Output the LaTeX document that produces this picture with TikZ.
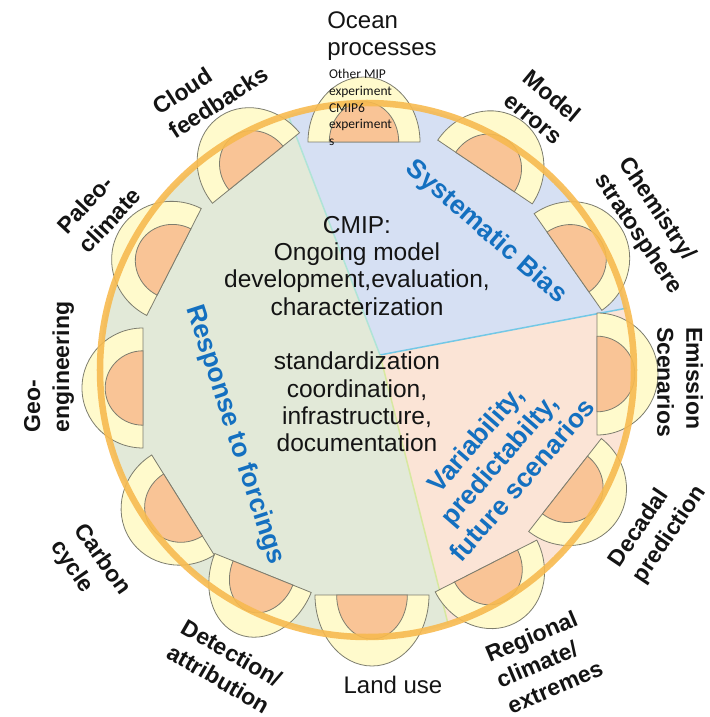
\documentclass[tikz,border=0pt]{standalone}
\usepackage{fontspec}
\setmainfont{Liberation Sans}
\newfontfamily\notefont{Carlito}

\definecolor{sectorgreen}{RGB}{226,233,216}
\definecolor{sectorblue}{RGB}{214,224,243}
\definecolor{sectorpeach}{RGB}{251,228,214}
\definecolor{gbline}{RGB}{175,228,215}
\definecolor{bpline}{RGB}{115,200,230}
\definecolor{gpline}{RGB}{215,232,160}
\definecolor{cupyellow}{RGB}{255,250,204}
\definecolor{cuporange}{RGB}{249,196,150}
\definecolor{cupedge}{RGB}{125,125,110}
\definecolor{ringorange}{RGB}{247,186,80}
\definecolor{themeblue}{RGB}{20,112,192}
\definecolor{labelblack}{RGB}{20,20,20}

\begin{document}
\begin{tikzpicture}[x=1pt, y=1pt,
	lbl/.style={font=\fontsize{23}{29}\selectfont\bfseries, text=labelblack, align=left, inner sep=0pt},
	plain/.style={font=\fontsize{24}{27}\selectfont, text=labelblack, inner sep=0pt},
	theme/.style={font=\fontsize{26.5}{31}\selectfont\bfseries, text=themeblue, align=center, inner sep=0pt},
	cup/.style={draw=cupedge, line width=0.8pt}]

\useasboundingbox (-367,-347) rectangle (342,370);

% three sectors of the disc, meeting at the hub
\coordinate (hub) at (13,15);
\coordinate (gb) at (107.2:267);
\coordinate (bp) at (13.4:267);
\coordinate (gp) at (-72.3:267);
\fill[sectorgreen] (hub) -- (gb) arc[start angle=107.2, end angle=287.7, radius=267] -- cycle;
\fill[sectorblue]  (hub) -- (bp) arc[start angle=13.4, end angle=107.2, radius=267] -- cycle;
\fill[sectorpeach] (hub) -- (gp) arc[start angle=-72.3, end angle=13.4, radius=267] -- cycle;
\draw[gbline, line width=1.5pt] (hub) -- (gb);
\draw[bpline, line width=1.5pt] (hub) -- (bp);
\draw[gpline, line width=1.5pt] (hub) -- (gp);

% half cups round the rim: x / y / outward angle / half width / depth
\foreach \px/\py/\ang/\hw/\dp in {
	-3   / 228  / 90   / 56 / 65,
	118  / 198  / 56   / 57 / 63,
	201  / 108  / 35   / 59 / 63,
	230  / -4   / 0    / 61 / 61,
	198  / -115 / -38  / 59 / 63,
	119  / -196 / -63  / 57 / 64,
	5    / -225 / -90  / 57 / 71,
	-104 / -203 / -112 / 52 / 66,
	-184 / -135 / -148 / 59 / 63,
	-224 / -18  / 180  / 60 / 61,
	-193 / 108  / 153  / 60 / 63,
	-111 / 202  / 129  / 56 / 63
}
{
\begin{scope}[shift={(\px,\py)}, rotate=\ang-90]
	\filldraw[cup, fill=cupyellow] (-\hw,0) arc[start angle=180, end angle=0, x radius=\hw, y radius=\dp] -- cycle;
	\filldraw[cup, fill=cuporange] ({-0.62*\hw},0) arc[start angle=180, end angle=0, x radius={0.62*\hw}, y radius={0.62*\dp}] -- cycle;
\end{scope}
}

% orange rim
\draw[ringorange, line width=6.5pt, opacity=0.9] (0,0) circle[radius=267];

% topics round the outside
\node[plain, align=left] (ocean) at (15,333.5) {Ocean\\processes};
\node[font=\notefont\fontsize{13.5}{16.6}\selectfont, text=labelblack, align=left, inner sep=0pt]
	(mips) at (-6.5,262.5) {Other MIP\\experiment\\CMIP6\\experiment\\s};
\node[lbl, rotate=-40] (errors) at (176,263) {Model\\errors};
\node[lbl, rotate=-56] (chem) at (283,144) {Chemistry/\\stratosphere};
\node[lbl, rotate=-90] (emission) at (313,-12) {Emission\\Scenarios};
\node[lbl, rotate=56] (decadal) at (291,-157) {Decadal\\prediction};
\node[lbl, rotate=23, font=\fontsize{23}{28}\selectfont\bfseries] (regional) at (177,-291) {Regional\\climate/\\extremes};
\node[plain] (landuse) at (26,-315) {Land use};
\node[lbl, rotate=-30] (detection) at (-141,-296) {Detection/\\attribution};
\node[lbl, rotate=-55] (carbon) at (-277,-198) {Carbon\\cycle};
\node[lbl, rotate=90] (geo) at (-318,3) {Geo-\\engineering};
\node[lbl, rotate=47] (paleo) at (-268,159.5) {Paleo-\\climate};
\node[lbl, rotate=33] (cloud) at (-156.6,279.8) {Cloud\\feedbacks};

% sector themes
\node[theme, rotate=-41] (bias) at (119,138) {Systematic Bias};
\node[theme, rotate=-72] (forcing) at (-132.5,-65) {Response to forcings};
\node[theme, rotate=49] (variability) at (131.5,-89.5) {Variability,\\predictabilty,\\future scenarios};

% core text
\node[font=\fontsize{24.5}{27.3}\selectfont, text=labelblack, align=center, inner sep=0pt] (cmip) at (-10,36)
	{CMIP:\\Ongoing model\\development,evaluation,\\characterization\\[27.3pt]standardization\\coordination,\\infrastructure,\\documentation};
\end{tikzpicture}
\end{document}
